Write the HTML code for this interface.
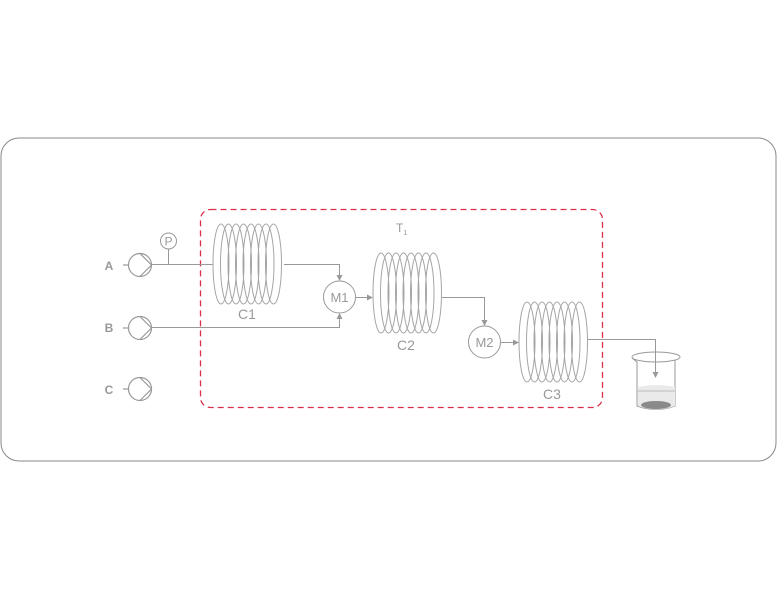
<!DOCTYPE html>
<html><head><meta charset="utf-8"><style>
html,body{margin:0;padding:0;background:#fff;width:777px;height:599px;overflow:hidden}
text{font-family:"Liberation Sans",sans-serif;fill:#999}
</style></head><body>
<svg width="777" height="599" viewBox="0 0 777 599" xmlns="http://www.w3.org/2000/svg">
<defs>
<marker id="ar" markerWidth="6" markerHeight="6" refX="5" refY="3" orient="auto" markerUnits="userSpaceOnUse"><path d="M0,0 L6,3 L0,6 z" fill="#999"/></marker>
<g id="coil" fill="none" stroke="#a5a5a5" stroke-width="1">
<ellipse cx="8" cy="40" rx="8" ry="40"/><ellipse cx="15.5" cy="40" rx="8" ry="40"/><ellipse cx="23" cy="40" rx="8" ry="40"/><ellipse cx="30.5" cy="40" rx="8" ry="40"/><ellipse cx="38" cy="40" rx="8" ry="40"/><ellipse cx="45.5" cy="40" rx="8" ry="40"/><ellipse cx="53" cy="40" rx="8" ry="40"/><ellipse cx="60.5" cy="40" rx="8" ry="40"/>
</g>
<g id="pump" fill="none" stroke="#999" stroke-width="1.2">
<circle cx="0" cy="0" r="11.5"/><path d="M0,-11.5 L11.5,0 L0,11.5"/><line x1="-17" y1="0" x2="-11.5" y2="0"/>
</g>
</defs>
<rect x="1" y="138" width="775" height="323" rx="18" fill="none" stroke="#888" stroke-width="1"/>
<rect x="200.5" y="209.5" width="402" height="198" rx="10" fill="none" stroke="#d9304a" stroke-width="1.3" stroke-dasharray="6,4"/>
<g fill="none" stroke="#999" stroke-width="1">
<line x1="152" y1="264.5" x2="213" y2="264.5"/>
<line x1="168.5" y1="249" x2="168.5" y2="264.5"/>
<circle cx="168.5" cy="241" r="8"/>
<path d="M284,264.5 H339.5 V280" marker-end="url(#ar)"/>
<path d="M152,327.5 H339.5 V314" marker-end="url(#ar)"/>
<circle cx="339.5" cy="297" r="16"/>
<path d="M356,297.5 H372" marker-end="url(#ar)"/>
<path d="M442,297.5 H484.5 V325" marker-end="url(#ar)"/>
<circle cx="484.5" cy="342" r="16"/>
<path d="M501,342.5 H518" marker-end="url(#ar)"/>
<path d="M588,339.5 H655.5 V377" marker-end="url(#ar)"/>
</g>
<use href="#pump" x="140" y="265"/>
<use href="#pump" x="140" y="328"/>
<use href="#pump" x="140" y="389"/>
<use href="#coil" x="213" y="224"/>
<use href="#coil" x="373" y="253"/>
<use href="#coil" x="519" y="302"/>
<g fill="none" stroke="#999" stroke-width="1">
<ellipse cx="656" cy="357" rx="24" ry="5"/>
<path d="M632,358 L637,362 V406 Q656,413 675,406 V360"/>
</g>
<path d="M638,387 Q656,383 675,387 V406 Q656,413 638,406 Z" fill="#eaeaea"/>
<line x1="638" y1="391" x2="675" y2="391" stroke="#bbb" stroke-width="1"/>
<ellipse cx="656" cy="405" rx="15" ry="4" fill="#8a8a8a"/>
<text x="109" y="270" font-size="12" font-weight="bold" text-anchor="middle">A</text>
<text x="109" y="332" font-size="12" font-weight="bold" text-anchor="middle">B</text>
<text x="109" y="394" font-size="12" font-weight="bold" text-anchor="middle">C</text>
<text x="168.5" y="245.5" font-size="12" text-anchor="middle">P</text>
<text x="339.5" y="302" font-size="13" text-anchor="middle">M1</text>
<text x="484.5" y="347" font-size="13" text-anchor="middle">M2</text>
<text x="247" y="319" font-size="14" text-anchor="middle">C1</text>
<text x="406" y="350" font-size="14" text-anchor="middle">C2</text>
<text x="552" y="399" font-size="14" text-anchor="middle">C3</text>
<text x="396" y="232" font-size="12">T<tspan font-size="7" dy="3">1</tspan></text>
</svg>
</body></html>
